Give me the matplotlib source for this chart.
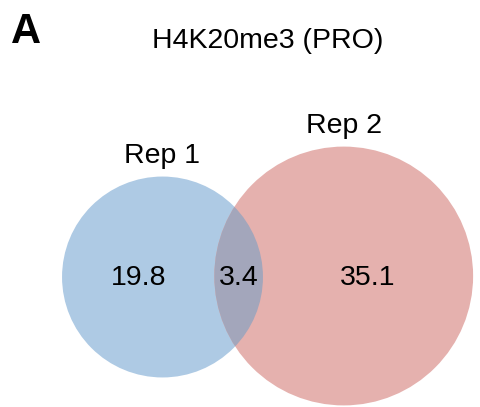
import numpy as np
import matplotlib
matplotlib.use("Agg")
import matplotlib.pyplot as plt
from matplotlib.patches import Circle

plt.rcParams['font.family'] = ['Liberation Sans', 'DejaVu Sans']

# region sizes: only Rep 1, shared, only Rep 2
set_labels = ['Rep 1', 'Rep 2']
region_values = [19.8, 3.4, 35.1]
title = 'H4K20me3 (PRO)'

colors = ['#aecae4', '#e5b1ae']
overlap_color = '#a3a6bb'

# area-proportional venn in pixel coordinates
scale = 435.0           # r^2 (px^2) per unit
c1 = np.array([162.5, 277.0])

tot1 = region_values[0] + region_values[1]
tot2 = region_values[2] + region_values[1]
r1 = np.sqrt(tot1 * scale)
r2 = np.sqrt(tot2 * scale)


def lens_area(d, ra, rb):
    a = (d**2 + ra**2 - rb**2) / (2 * d)
    b = d - a
    seg_a = ra**2 * np.arccos(a / ra) - a * np.sqrt(ra**2 - a**2)
    seg_b = rb**2 * np.arccos(b / rb) - b * np.sqrt(rb**2 - b**2)
    return seg_a + seg_b


# find center distance so the lens matches the shared value
target = region_values[1] * scale * np.pi
lo, hi = abs(r2 - r1) + 1e-6, r1 + r2 - 1e-6
for _ in range(60):
    mid = (lo + hi) / 2
    if lens_area(mid, r1, r2) > target:
        lo = mid
    else:
        hi = mid
d = (lo + hi) / 2
c2 = c1 + np.array([d, -1.0])

fig = plt.figure(figsize=(4.8, 4.07), dpi=100)
ax = fig.add_axes([0, 0, 1, 1])
ax.set_xlim(0, 480)
ax.set_ylim(407, 0)
ax.set_aspect('equal')
ax.axis('off')

circ1 = Circle(c1, r1, color=colors[0], lw=0)
circ2 = Circle(c2, r2, color=colors[1], lw=0)
ax.add_patch(circ1)
ax.add_patch(circ2)
lens = Circle(c2, r2, color=overlap_color, lw=0)
ax.add_patch(lens)
lens.set_clip_path(circ1)

# region label positions: middle of each horizontal span
left1 = c1[0] - r1
right1 = c1[0] + r1
left2 = c2[0] - r2
right2 = c2[0] + r2
xs = [(left1 + left2) / 2, (left2 + right1) / 2, (right1 + right2) / 2]
for x, v in zip(xs, region_values):
    ax.text(x, c1[1] + 1, f'{v}', fontsize=20.5, ha='center', va='center')

for c, r, lab in zip([c1, c2], [r1, r2], set_labels):
    ax.text(c[0], c[1] - r - 14, lab, fontsize=20.5, ha='center', va='baseline')

ax.text(268, 48, title, fontsize=20.5, ha='center', va='baseline')
ax.text(11, 43, 'A', fontsize=30, fontweight='bold', ha='left', va='baseline')

fig.savefig('out.png', dpi=100)
